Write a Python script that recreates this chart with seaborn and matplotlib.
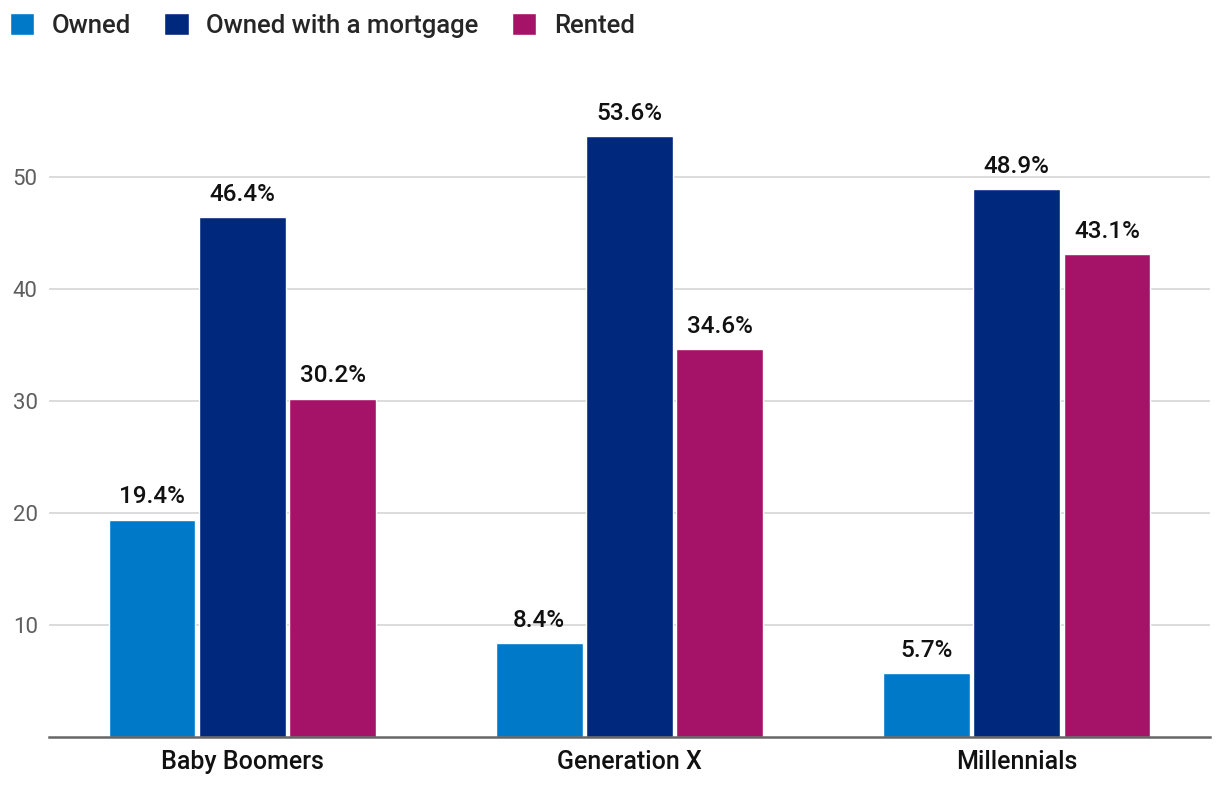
import pandas as pd
import seaborn as sns
import matplotlib.pyplot as plt
from matplotlib.patches import Patch

generations = ['Baby Boomers', 'Generation X', 'Millennials']
tenures = ['Owned', 'Owned with a mortgage', 'Rented']
owned = [19.4, 8.4, 5.7]
mortgage = [46.4, 53.6, 48.9]
rented = [30.2, 34.6, 43.1]
colors = ['#0079c8', '#00297e', '#a51368']

df = pd.DataFrame({
    'generation': generations * 3,
    'tenure': [t for t in tenures for _ in generations],
    'value': owned + mortgage + rented,
})

sns.set_style('white')
plt.rcParams['font.family'] = ['Roboto', 'DejaVu Sans']

fig = plt.figure(figsize=(12.2, 7.88), dpi=100)
ax = fig.add_axes([0.040, 0.0647, 0.952, 0.825])

sns.barplot(data=df, x='generation', y='value', hue='tenure', hue_order=tenures,
            palette=colors, width=0.70, gap=0.04, legend=False, ax=ax,
            saturation=1, errorbar=None)

# value labels on top of bars
for c in ax.containers:
    ax.bar_label(c, fmt='%.1f%%', padding=8, fontsize=17.5, fontweight='medium',
                 color='#111111')

ax.set_xlim(-0.5, 2.5)
ax.set_ylim(0, 58)
ax.set_yticks([10, 20, 30, 40, 50])
ax.yaxis.grid(True, color='#d6d6d6', linewidth=1.2)
ax.set_axisbelow(True)
ax.set_xlabel('')
ax.set_ylabel('')
ax.tick_params(axis='y', length=0, pad=8, labelsize=16, labelcolor='#5e5e5e')
ax.tick_params(axis='x', length=0, pad=9, labelsize=18)
for lab in ax.get_xticklabels():
    lab.set_fontweight('medium')
    lab.set_color('#111111')

for s in ['top', 'right', 'left']:
    ax.spines[s].set_visible(False)
ax.spines['bottom'].set_color('#666666')
ax.spines['bottom'].set_linewidth(1.8)

handles = [Patch(facecolor=c, label=t) for c, t in zip(colors, tenures)]
leg = fig.legend(handles=handles, loc='upper left', bbox_to_anchor=(0.008, 0.984),
                 ncol=3, frameon=False, fontsize=18.5, handlelength=0.95,
                 handleheight=0.95, handletextpad=0.68, columnspacing=1.3,
                 borderaxespad=0, borderpad=0)
for t in leg.get_texts():
    t.set_fontweight('medium')

fig.savefig('out.png', dpi=100)
